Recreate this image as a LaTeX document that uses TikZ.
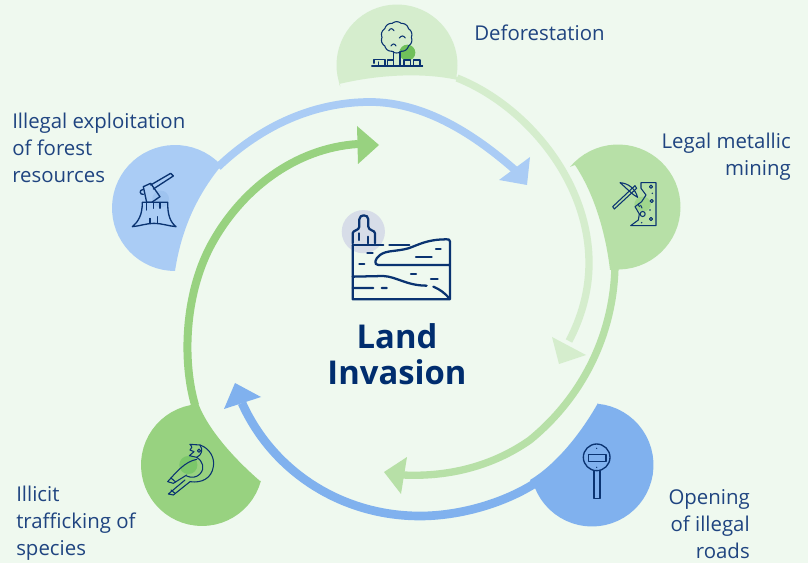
\documentclass[tikz,border=0pt]{standalone}
\usepackage{fontspec}
\setmainfont{Open Sans}
\definecolor{bgc}{HTML}{EFF9EF}
\definecolor{paleg}{HTML}{D5EDCD}
\definecolor{midg}{HTML}{B7E0A7}
\definecolor{strg}{HTML}{98D280}
\definecolor{blu}{HTML}{80B1EE}
\definecolor{lblu}{HTML}{AACCF5}
\definecolor{ink}{HTML}{0A3371}
\definecolor{lab}{HTML}{1F4480}
\definecolor{ttl}{HTML}{002D6E}
\definecolor{halo}{HTML}{D7DDE8}
\definecolor{hlg}{HTML}{70C05A}
\definecolor{hlm}{HTML}{A0D68D}
\definecolor{hlb}{HTML}{7BC76A}
\definecolor{hlx}{HTML}{9EC3EF}
\tikzset{
 lbl/.style={inner sep=0pt,text=lab,font=\fontsize{15.3}{20.25}\selectfont},
 ttlnode/.style={inner sep=0pt,text=ttl,align=center,font=\fontsize{24.6}{27}\selectfont\bfseries},
 ic/.style={draw=ink,line width=0.8pt,line cap=round,line join=round},
 ict/.style={draw=ink,line width=1.7pt,line cap=round,line join=round},
 zoomed/.style={x=0.25pt,y=-0.25pt}
}
\newcommand{\bubblearc}[5]{plot[domain=#4:#5,samples=40] ({#1+#3*cos(\x)},{#2+#3*sin(\x)})}
\begin{document}
\begin{tikzpicture}[x=0.75pt,y=-0.75pt]
\useasboundingbox (0,0) rectangle (808,563);
\fill[bgc] (0,0) rectangle (808,563);
% bubbles
\fill[paleg] \bubblearc{397}{65}{60.5}{-201}{11} -- (472,84) .. controls (440,73) and (390,72) .. (339,84) -- cycle;
\fill[midg] \bubblearc{618}{207}{62.5}{-140}{88} -- (610,270) .. controls (606,235) and (595,195) .. (575,165) -- cycle;
\fill[blu] \bubblearc{592}{465}{61.5}{-84.5}{158.6} -- (530,480) .. controls (555,465) and (580,435) .. (598,403) -- cycle;
\fill[strg] \bubblearc{202}{465}{61}{15}{259} -- (197,400) .. controls (205,425) and (230,455) .. (260,481) -- cycle;
\fill[lblu] \bubblearc{175}{208}{63}{90}{315} -- (226,160) .. controls (200,190) and (182,225) .. (175,271) -- cycle;
% connector ends
\coordinate (defA) at (457,78); \coordinate (defB) at (569,341);
\coordinate (minA) at (615,262); \coordinate (minB) at (403,475);
\coordinate (rdA) at (537,482); \coordinate (rdB) at (242,403);
\coordinate (spA) at (195,405); \coordinate (spB) at (358,144);
\coordinate (exA) at (218,167); \coordinate (exB) at (515,170);
% arcs
\draw[paleg,line width=5.5pt] (defA) .. controls (525,105) and (589,180) .. (589,263) .. controls (589,292) and (581,318) .. (defB);
\fill[paleg] (552,337) -- (586,355) -- (559,364) -- cycle;
\draw[midg,line width=5.5pt] (minA) .. controls (615,330) and (585,395) .. (530,440) .. controls (490,468) and (445,477) .. (minB);
\fill[midg] (407,457) -- (384,472) -- (401,494) -- cycle;
\draw[blu,line width=6.5pt] (rdA) .. controls (505,503) and (460,516) .. (420,516) .. controls (340,516) and (272,470) .. (rdB);
\fill[blu] (235,383) -- (261,397) -- (224,409) -- cycle;
\draw[strg,line width=6pt] (spA) .. controls (182,360) and (185,295) .. (210,247) .. controls (240,190) and (295,148) .. (spB);
\fill[strg] (357,126) -- (379,145) -- (358,164) -- cycle;
\draw[lblu,line width=5.8pt] (exA) .. controls (262,125) and (315,102) .. (370,102) .. controls (425,102) and (475,135) .. (exB);
\fill[lblu] (530,157) -- (527,185) -- (499,180) -- cycle;
% land icon
\begin{scope}[shift={(330,200)},zoomed]
\fill[halo] (100,95) circle (16.2pt);
\draw[ict] (68,130) -- (68,100) .. controls (68,90) and (88,92) .. (88,80) -- (88,58) .. controls (88,42) and (115,42) .. (115,58) -- (115,80) .. controls (115,92) and (135,90) .. (135,100) -- (135,130);
\draw[ict] (88,100) -- (88,120) (115,110) -- (115,130);
\draw[ict] (68,135) -- (68,298) -- (360,298) -- (360,125) .. controls (360,118) and (355,118) .. (350,118) .. controls (290,118) and (265,135) .. (235,145) .. controls (200,155) and (170,150) .. (150,165) .. controls (135,175) and (130,195) .. (145,195) -- (360,195);
\draw[ict] (68,135) -- (160,135) (178,135) -- (238,135);
\draw[ict] (68,230) -- (160,228) .. controls (200,230) and (230,257) .. (290,257);
\draw[ict] (68,264) -- (130,264) (155,264) -- (170,264) (310,260) .. controls (330,268) and (345,280) .. (358,295);
\draw[ict] (112,160) -- (128,160) (88,193) -- (103,193) (258,170) -- (305,170) (318,148) -- (332,148) (243,223) -- (258,223) (303,236) -- (323,236);
\end{scope}
% tree
\begin{scope}[shift={(330,0)},zoomed]
\fill[hlg] (232,158) circle (6pt);
\draw[ic] plot[domain=0:360,samples=61,smooth] ({200+(44+3*abs(sin(5*\x)))*cos(\x)},{112+(44+3*abs(sin(5*\x)))*sin(\x)}) -- cycle;
\draw[ic] (176,92) .. controls (182,84) and (186,84) .. (192,92) (208,114) .. controls (214,106) and (220,106) .. (226,114) (183,138) .. controls (188,130) and (194,130) .. (198,138);
\draw[ic] (190,155) -- (190,198) (210,155) -- (210,198) (125,198) -- (278,198);
\draw[ic] (132,190) -- (132,178) -- (165,178) -- (165,198) (145,198) -- (145,186);
\draw[ic] (173,198) -- (173,180) -- (188,180);
\draw[ic] (222,198) -- (222,180) -- (242,180) -- (242,198) (250,198) -- (250,180) -- (270,180) -- (270,198);
\end{scope}
% mining
\begin{scope}[shift={(570,140)},zoomed]
\fill[hlm,rounded corners=6pt] (193,170) rectangle (243,215);
\draw[ic] (213,128) -- (258,128) -- (258,257) -- (182,257) -- (205,240) -- (208,222) -- (195,200) -- (215,185) -- (228,165) -- (213,145) -- cycle;
\draw[ic] (243,140) circle (1.2pt) (245,183) circle (1.2pt) (243,237) circle (1.2pt) (218,222) circle (1.9pt);
\fill[ink] (247,160) circle (0.6pt) (240,210) circle (0.6pt) (215,248) circle (0.6pt);
\draw[ic] (205,192) -- (208,200) (212,196) -- (216,204);
\draw[ic] (150,128) .. controls (175,130) and (195,145) .. (203,172) .. controls (188,165) and (170,145) .. (150,128) -- cycle;
\draw[ic] (128,200) -- (195,137) -- (200,145) -- (133,207) -- cycle;
\end{scope}
% road sign
\begin{scope}[shift={(530,400)},zoomed]
\draw[ic,line width=1pt] (200,172) circle (10pt);
\draw[ic,line width=1pt] (175,163) rectangle (228,185);
\draw[ic,line width=1pt] (192,212) -- (192,295) -- (210,295) -- (210,212);
\fill[ink] (200,145) circle (0.5pt) (200,202) circle (0.5pt);
\end{scope}
% bird
\begin{scope}[shift={(135,400)},zoomed]
\fill[hlb] (160,195) circle (6.8pt);
\draw[ic] (165,133) -- (195,135) .. controls (225,145) and (240,175) .. (235,200) .. controls (230,235) and (200,250) .. (165,245);
\draw[ic] (165,133) .. controls (172,140) and (172,145) .. (165,150) -- (177,155) -- (163,167) -- (185,172) .. controls (205,185) and (210,205) .. (195,222) .. controls (185,232) and (170,235) .. (155,228);
\draw[ic] (192,152) circle (1.2pt);
\draw[ic] (195,135) .. controls (205,150) and (200,165) .. (185,172);
\draw[ic] (185,178) .. controls (150,185) and (125,215) .. (98,245) -- (115,250) -- (155,225);
\draw[ic] (150,240) -- (100,282) -- (115,285) -- (165,245);
\draw[ic] (108,234) -- (122,246) (108,270) -- (120,280);
\end{scope}
% axe
\begin{scope}[shift={(105,140)},zoomed]
\fill[hlx] (167,177) circle (6.3pt);
\draw[ict,line width=1pt] (112,187) -- (188,187) .. controls (188,225) and (195,245) .. (213,260) .. controls (190,258) and (170,250) .. (147,250) .. controls (125,250) and (105,258) .. (82,260) .. controls (100,245) and (112,225) .. (112,187);
\draw[ic] (125,190) -- (125,210) (145,190) -- (145,205) (165,190) -- (165,205) (135,235) -- (135,250) (157,230) -- (157,250);
\draw[ict,line width=1pt] (115,140) -- (137,130) -- (165,170) -- (140,187) -- (125,187) -- cycle;
\draw[ict,line width=1pt] (115,148) .. controls (100,150) and (105,165) .. (115,163);
\draw[ict,line width=1pt] (137,135) -- (197,100) -- (205,108) -- (145,147);
\end{scope}
% title
\node[ttlnode] (title) at (397,354) {Land\\Invasion};
% labels
\node[lbl,anchor=base west] (dfl) at (474,41) {Deforestation};
\node[lbl,anchor=west,align=left] (exl) at (12,148) {Illegal exploitation\\of forest\\resources};
\node[lbl,anchor=east,align=right] (mil) at (791,157) {Legal metallic\\mining};
\node[lbl,anchor=east,align=right] (rol) at (750,524) {Opening\\of illegal\\roads};
\node[lbl,anchor=west,align=left] (spl) at (16,523) {Illicit\\trafficking of\\species};
\end{tikzpicture}
\end{document}
